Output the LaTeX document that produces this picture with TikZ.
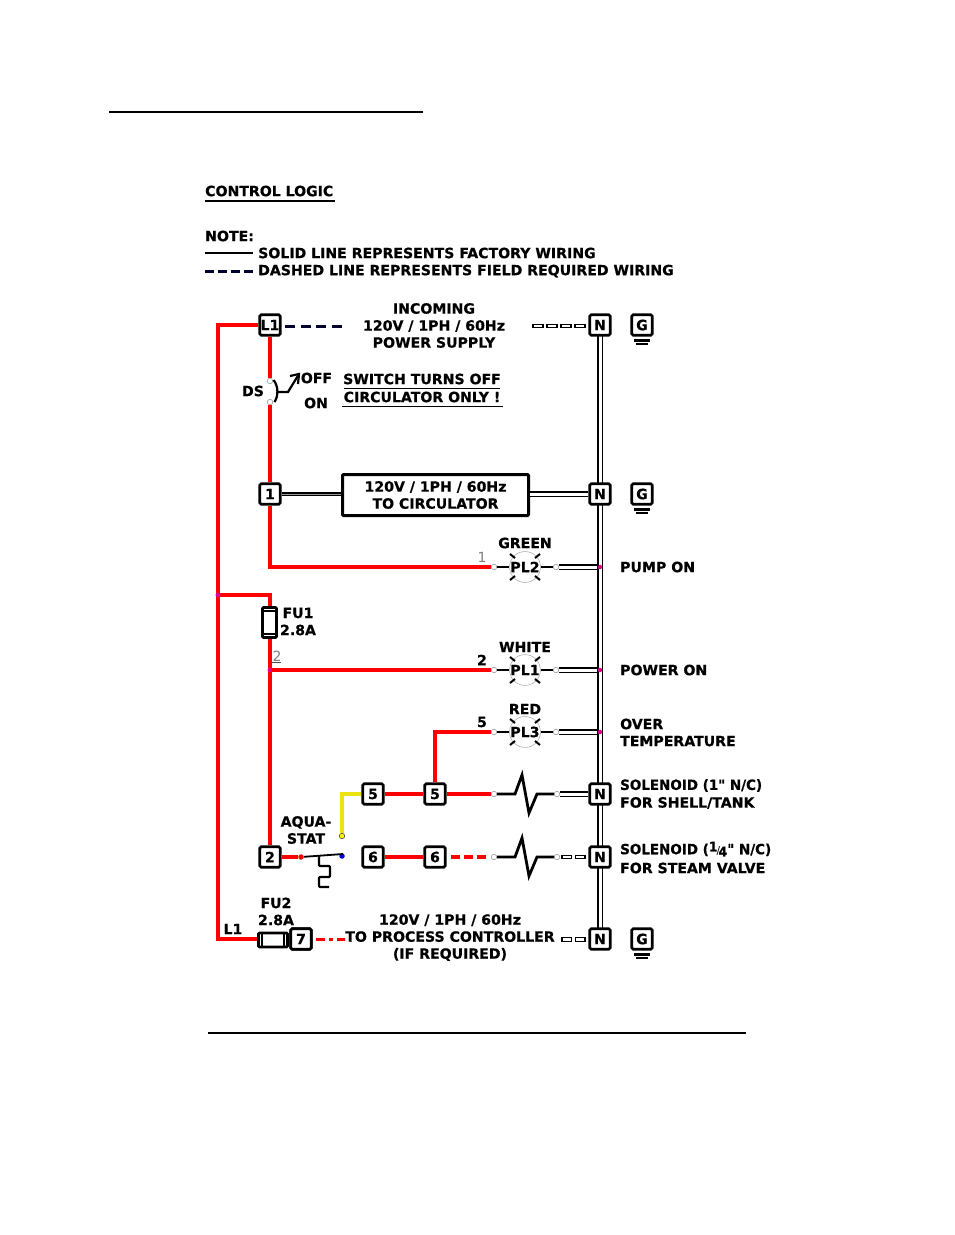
\documentclass[tikz,border=0pt]{standalone}
\usepackage{fontspec}
\setmainfont{DejaVu Sans}[BoldFont={DejaVu Sans Bold},BoldFeatures={FakeBold=0.6},Ligatures=TeXOff]
\newcommand{\txtfont}{\fontsize{14.1}{17}\selectfont\bfseries}
\newcommand{\inchmark}{{\char"22}}
\tikzset{
 base/.style={font=\txtfont,inner sep=0pt,align=center},
 lab/.style={base,text=black},
 labl/.style={base,align=left,anchor=west},
 narrow/.style={xscale=.955,transform shape},
 term/.style={draw=black,line width=2.8pt,fill=white,rounded corners=1.5pt,minimum size=20.5pt,inner sep=0pt,font=\txtfont},
 redw/.style={draw=red,line width=3.2pt},
 redd/.style={draw=red,line width=3.2pt,dash pattern=on 9pt off 4pt},
 dbl/.style={draw=black,double=white,line width=1.15pt,double distance=3pt},
 dblk/.style={draw=black,double=black!40,line width=1.8pt,double distance=.5pt},
 blk/.style={draw=black,line width=2.8pt},
 yel/.style={draw=black!8!yellow,line width=4pt},
 rule/.style={draw=black,line width=2pt},
 thinrule/.style={draw=black,line width=1.1pt},
 darkdash/.style={draw=black!82!blue,line width=3pt,dash pattern=on 10pt off 5.5pt},
 lamp/.style={circle,draw=black!35,line width=.5pt,minimum size=30pt,inner sep=0pt,font=\txtfont},
 pin/.style={circle,draw=black!45,fill=white,line width=.5pt,minimum size=5.5pt,inner sep=0pt},
 dot/.style={circle,fill=#1,minimum size=6pt,inner sep=0pt},
 opn/.style={draw=black,line width=1.3pt,fill=white},
 ray/.style={draw=black,line width=2pt},
 part/.style={draw=black,line width=2.2pt},
}
\colorlet{jun}{magenta!90!blue}
\begin{document}
\begin{tikzpicture}[x=1pt,y=-1pt]
\useasboundingbox (0,0) rectangle (954,1235);
\fill[white] (0,0) rectangle (954,1235);

% rules
\coordinate (ra) at (109,112); \coordinate (rb) at (423,112);
\draw[rule] (ra) -- (rb);
\coordinate (rc) at (208,1033); \coordinate (rd) at (746,1033);
\draw[rule] (rc) -- (rd);

% heading and note
\node[labl] (tCL) at (205,191) {CONTROL LOGIC};
\coordinate (ul1) at (205,201); \coordinate (ul2) at (335,201);
\draw[thinrule] (ul1) -- (ul2);
\node[labl] (tNote) at (205,236) {NOTE:};
\node[labl] (tSolid) at (258,253) {SOLID LINE REPRESENTS FACTORY WIRING};
\node[labl] (tDash) at (258,271) {DASHED LINE REPRESENTS FIELD REQUIRED WIRING};
\coordinate (la) at (205,253); \coordinate (lb) at (253,253);
\draw[black,line width=2.8pt] (la) -- (lb);
\coordinate (lc) at (205,271); \coordinate (ld) at (253,271);
\draw[darkdash,dash pattern=on 9pt off 4pt] (lc) -- (ld);

% coordinates for junctions and parts
\coordinate (L0) at (218,325);
\coordinate (L7) at (218,939);
\coordinate (jA) at (218,595);
\coordinate (jB) at (270,595);
\coordinate (jC) at (270,670);
\coordinate (jE) at (270,567);
\coordinate (jR) at (435,732);

% lamps
\node[lamp] (PL2) at (525,567) {PL2};
\node[lamp] (PL1) at (525,670) {PL1};
\node[lamp] (PL3) at (525,732) {PL3};
\foreach \n in {PL2,PL1,PL3}{
 \draw[ray] (\n.center) ++(-15,-13) -- ++(5,4);
 \draw[ray] (\n.center) ++(15,-13) -- ++(-5,4);
 \draw[ray] (\n.center) ++(-15,13) -- ++(5,-4);
 \draw[ray] (\n.center) ++(15,13) -- ++(-5,-4);
}
\node[pin] (p2a) at (494,567) {}; \node[pin] (p2b) at (556,567) {};
\node[pin] (p1a) at (494,670) {}; \node[pin] (p1b) at (556,670) {};
\node[pin] (p3a) at (494,732) {}; \node[pin] (p3b) at (556,732) {};
\foreach \a/\b in {p2a/PL2,PL2/p2b,p1a/PL1,PL1/p1b,p3a/PL3,PL3/p3b}
 \draw[blk] (\a) -- (\b);

% coils
\node[pin] (c1a) at (494,794) {}; \node[pin] (c1b) at (557,794) {};
\node[pin] (c2a) at (494,857) {}; \node[pin] (c2b) at (557,857) {};
\draw[blk,line join=miter] (c1a.east) -- ++(18,0) -- ++(7,-19) -- ++(7,38) -- ++(8,-19) -- (c1b.west);
\draw[blk,line join=miter] (c2a.east) -- ++(18,0) -- ++(7,-19) -- ++(7,38) -- ++(8,-19) -- (c2b.west);

% neutral bus
\coordinate (Nt) at (600,325); \coordinate (Nb) at (600,939);
\coordinate (j2) at (600,567);
\coordinate (j1) at (600,670);
\coordinate (j3) at (600,732);
\draw[dbl] (p2b) -- (j2);
\draw[dbl] (p1b) -- (j1);
\draw[dbl] (p3b) -- (j3);
\draw[dbl] (Nt) -- (Nb);
\foreach \j in {j2,j1,j3} \node[dot=jun,minimum size=4.5pt] at (\j) {};

% terminals
\node[term] (L1) at (270,325) {L1};
\node[term] (N1) at (600,325) {N};
\node[term] (G1) at (642,325) {G};
\node[term] (T1) at (270,494) {1};
\node[term] (N2) at (600,494) {N};
\node[term] (G2) at (642,494) {G};
\node[term] (T5a) at (373,794) {5};
\node[term] (T5b) at (435,794) {5};
\node[term] (N3) at (600,794) {N};
\node[term] (T6a) at (373,857) {6};
\node[term] (T6b) at (435,857) {6};
\node[term] (N4) at (600,857) {N};
\node[term] (T2) at (270,857) {2};
\node[term] (T7) at (301,939) {7};
\node[term] (N5) at (600,939) {N};
\node[term] (G3) at (642,939) {G};

% ground marks
\foreach \g in {G1,G2,G3}{
 \fill[black] (\g.center) ++(-8,14) rectangle ++(16,2.6);
 \fill[black] (\g.center) ++(-6,18) rectangle ++(12,2.4);
}

% circulator
\node[draw=black,line width=3pt,rounded corners=1pt,minimum width=186pt,minimum height=41pt,inner sep=0pt,base] (Circ) at (435.5,495) {120V / 1PH / 60Hz\\TO CIRCULATOR};
\draw[dblk] (T1) -- (Circ.west |- T1);
\draw[dbl] (Circ.east |- N2) -- (N2);

% red wiring
\draw[redw] (L1) -- (L0) -- (L7) -- (259,939);
\node[pin] (ds1) at (270,381) {}; \node[pin] (ds2) at (270,402) {};
\draw[redw] (L1) -- (ds1);
\draw[redw] (ds2) -- (T1);
\draw[redw] (T1) -- (jE) -- (p2a);
\draw[redw] (jA) -- (jB) -- (270,608);
\draw[redw] (270,637) -- (jC);
\draw[redw] (jC) -- (T2);
\draw[redw] (jC) -- (p1a);
\draw[redw] (T5b) -- (jR) -- (p3a);
\draw[redw] (T5a) -- (T5b);
\draw[redw] (T5b) -- (c1a);
\draw[redw] (T6a) -- (T6b);
\coordinate (r6a) at (451,857); \coordinate (r6b) at (487,857);
\draw[redd] (r6a) -- (r6b);
\node[dot=jun,minimum size=5pt] at (jA) {};
\node[dot=jun,minimum size=5pt] at (jC) {};

% dashed supply lines
\coordinate (ds0) at (285,326); \coordinate (dl) at (343,326);
\draw[darkdash] (ds0) -- (dl);
\foreach \x in {533,547,561,575} \draw[opn] (\x,324.3) rectangle ++(10,3.4);
\foreach \x in {562,575.5} \draw[opn] (\x,855.3) rectangle ++(9.5,3.4);
\foreach \x in {562,575.5} \draw[opn] (\x,937.8) rectangle ++(9.5,3.4);
\draw[dbl] (c1b) -- (N3);

% disconnect switch
\draw[part] (273.5,380) .. controls (278.5,386) and (278.5,396) .. (274.5,402);
\coordinate (dsm) at (277,392); \coordinate (dsk) at (288,392); \coordinate (dst) at (299,374);
\draw[part,line join=miter] (dsm) -- (dsk) -- (dst);
\draw[part] (290,376) -- (299,374) -- (298,384);

% fuse 1
\node[draw=black,line width=2.6pt,rounded corners=1pt,minimum width=14pt,minimum height=30pt,inner sep=0pt,fill=white] (FU1) at (269.5,622.5) {};
\draw[part] (FU1.north west) ++(0,4.5) -- ++(14,0);
\draw[part] (FU1.south west) ++(0,-4.5) -- ++(14,0);

% fuse 2
\node[draw=black,line width=2.6pt,rounded corners=1pt,minimum width=29pt,minimum height=14pt,inner sep=0pt,fill=white] (FU2) at (273,940) {};
\draw[part] (FU2.north west) ++(4.5,0) -- ++(0,14);
\draw[part] (FU2.north east) ++(-4.5,0) -- ++(0,14);
\node[term] at (T7) {7};
\coordinate (w7a) at (316,939); \coordinate (w7) at (345,939);
\draw[draw=red,line width=3pt,dash pattern=on 9pt off 4pt on 4pt off 4pt on 8pt off 0pt] (w7a) -- (w7);

% aquastat
\node[dot=red,minimum size=5.5pt] (aqR) at (301,857) {};
\node[dot=blue!90!black,minimum size=5.5pt] (aqB) at (342,856) {};
\node[circle,draw=black!70,fill=yellow,line width=.6pt,minimum size=5.5pt,inner sep=0pt] (aqY) at (342,836) {};
\draw[redw] (T2) -- (aqR);
\draw[yel] (aqY) -- (342,794) -- (T5a);
\draw[black,line width=1.8pt] (aqR) -- (343,854);
\draw[part,line join=round,rounded corners=1pt] (319,856) -- (319,866) -- (330,866) -- (330,877) -- (319,877) -- (319,887) -- (329,887);

% texts
\node[lab] (tIn) at (434,325.5) {INCOMING\\120V / 1PH / 60Hz\\POWER SUPPLY};
\node[lab] (tDS) at (253,391) {DS};
\node[lab] (tOff) at (316.5,378) {OFF};
\node[lab] (tOn) at (316,403) {ON};
\node[lab] (tSw1) at (422,379) {SWITCH TURNS OFF};
\node[lab] (tSw2) at (422,397) {CIRCULATOR ONLY !};
\coordinate (us1) at (344,388.5); \coordinate (us2) at (500,388.5);
\draw[black,line width=.8pt] (us1) -- (us2);
\coordinate (us3) at (342,406.5); \coordinate (us4) at (503,406.5);
\draw[black,line width=.8pt] (us3) -- (us4);
\node[lab] (tGreen) at (525,543) {GREEN};
\node[lab] (tWhite) at (525,647) {WHITE};
\node[lab] (tRed) at (525,709) {RED};
\node[font=\fontsize{14}{16}\selectfont,text=black!50,inner sep=0pt] (tg1) at (482,557) {1};
\node[font=\fontsize{14}{16}\selectfont,text=black!50,inner sep=0pt] (tg2) at (277,656) {2};
\coordinate (ug1) at (272,662.5); \coordinate (ug2) at (281,662.5);
\draw[black!70,line width=.6pt] (ug1) -- (ug2);
\node[lab] (t2) at (482,660) {2};
\node[lab] (t5) at (482,722) {5};
\node[labl] (tPump) at (620,567) {PUMP ON};
\node[labl] (tPow) at (620,670) {POWER ON};
\node[labl] (tOver) at (620,732.5) {OVER\\TEMPERATURE};
\node[labl,narrow] (tSol1a) at (620,785.5) {SOLENOID (1\inchmark{} N/C)};
\node[labl] (tSol1b) at (620,803) {FOR SHELL/TANK};
\node[labl,narrow] (tSol2a) at (620,849) {SOLENOID (\raisebox{3pt}{\fontsize{13}{12}\selectfont 1}\kern-1pt\raisebox{0pt}{\fontsize{11}{12}\selectfont\mdseries/}\kern-1.5pt\raisebox{-2pt}{\fontsize{13}{12}\selectfont 4}\inchmark{} N/C)};
\node[labl] (tSol2b) at (620,868) {FOR STEAM VALVE};
\node[lab] (tFU1) at (298,613) {FU1};
\node[lab] (tFU1b) at (298,630) {2.8A};
\node[lab] (tAq) at (306,830) {AQUA-\\STAT};
\node[lab] (tFU2) at (276,903) {FU2};
\node[lab] (tFU2b) at (276,920) {2.8A};
\node[lab] (tL1) at (233,929) {L1};
\node[lab] (tPC) at (450,937.5) {120V / 1PH / 60Hz\\TO PROCESS CONTROLLER\\(IF REQUIRED)};
\end{tikzpicture}
\end{document}
